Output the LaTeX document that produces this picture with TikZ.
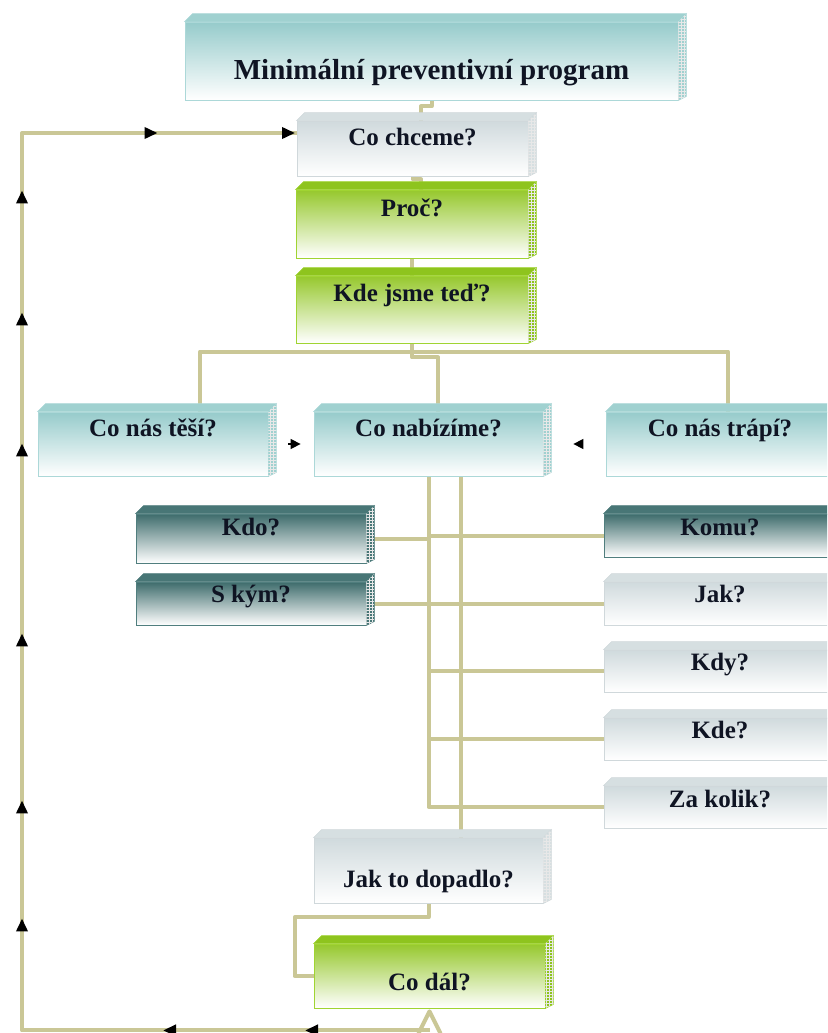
\documentclass[tikz,border=0pt]{standalone}
\usepackage{fontspec}
\setmainfont{Liberation Serif}
\usetikzlibrary{calc,arrows.meta,decorations.markings,patterns}
\definecolor{connC}{RGB}{202,199,150}
\definecolor{tealT}{RGB}{150,203,203}
\definecolor{tealF}{RGB}{160,209,208}
\definecolor{tealB}{RGB}{172,216,216}
\definecolor{greyT}{RGB}{208,218,221}
\definecolor{greyF}{RGB}{214,223,225}
\definecolor{greyB}{RGB}{208,216,219}
\definecolor{grnT}{RGB}{150,200,45}
\definecolor{grnF}{RGB}{142,196,30}
\definecolor{grnB}{RGB}{160,212,50}
\definecolor{dkT}{RGB}{62,108,108}
\definecolor{dkF}{RGB}{72,118,118}
\definecolor{dkB}{RGB}{80,126,126}
\definecolor{txtc}{RGB}{15,20,35}
\pgfdeclarelayer{background}
\pgfsetlayers{background,main}
\newcommand\mybevel[3]{%
  \filldraw[fill=#2, draw=#3, line width=0.6pt] (#1.north west) -- ++(8,-8) -- ($(#1.north east)+(8,-8)$) -- (#1.north east) -- cycle;
  \filldraw[fill=#2, draw=#3, line width=0.6pt] (#1.north east) -- ($(#1.north east)+(8,-8)$) -- ($(#1.south east)+(8,-4)$) -- (#1.south east) -- cycle;
  \fill[pattern=grid, pattern color=black!9] (#1.north east) -- ($(#1.north east)+(8,-8)$) -- ($(#1.south east)+(8,-4)$) -- (#1.south east) -- cycle;
}
\tikzset{
  boxbase/.style={inner sep=0pt, line width=0.8pt},
  tealbox/.style={boxbase, draw=tealB, top color=tealT, bottom color=white},
  greybox/.style={boxbase, draw=greyB, top color=greyT, bottom color=white},
  grnbox/.style={boxbase, draw=grnB, top color=grnT, bottom color=white},
  dkbox/.style={boxbase, draw=dkB, top color=dkT, bottom color=white},
  txt/.style={anchor=base, inner sep=0pt, text=txtc, font=\bfseries\fontsize{25}{30}\selectfont},
  txtbig/.style={txt, font=\bfseries\fontsize{29}{34}\selectfont},
  connline/.style={draw=connC, line width=4pt, line join=round},
  smallarrow/.style={draw=black, line width=1.5pt, -{Triangle[length=10pt,width=10pt]}},
  looptip/.style={black},
  looparrow/.style={connline, postaction={decorate, decoration={markings,
    mark=at position 124.5pt with {\arrow[looptip]{Triangle[length=13pt,width=11pt]}},
    mark=at position 266.5pt with {\arrow[looptip]{Triangle[length=13pt,width=11pt]}},
    mark=at position 519.5pt with {\arrow[looptip]{Triangle[length=13pt,width=11pt]}},
    mark=at position 637.5pt with {\arrow[looptip]{Triangle[length=13pt,width=11pt]}},
    mark=at position 804.5pt with {\arrow[looptip]{Triangle[length=13pt,width=11pt]}},
    mark=at position 994.5pt with {\arrow[looptip]{Triangle[length=13pt,width=11pt]}},
    mark=at position 1125.5pt with {\arrow[looptip]{Triangle[length=13pt,width=11pt]}},
    mark=at position 1247.5pt with {\arrow[looptip]{Triangle[length=13pt,width=11pt]}},
    mark=at position 1440.5pt with {\arrow[looptip]{Triangle[length=13pt,width=11pt]}},
    mark=at position 1578pt with {\arrow[looptip]{Triangle[length=13pt,width=11pt]}}}}}
}
\begin{document}
\begin{tikzpicture}[x=1pt,y=-1pt]
\useasboundingbox (0,0) rectangle (827,1033);
\begin{pgfonlayer}{background}
\fill[white] (0,0) rectangle (827,1033);
\end{pgfonlayer}
\clip (0,0) rectangle (827,1033);

% boxes
\node[tealbox, minimum width=493pt, minimum height=78pt] (top) at (431.5,61) {};
\node[greybox, minimum width=231pt, minimum height=55pt] (chceme) at (412.5,148.5) {};
\node[grnbox, minimum width=232pt, minimum height=68pt] (proc) at (412,224) {};
\node[grnbox, minimum width=232pt, minimum height=67pt] (kde) at (412,309.5) {};
\node[tealbox, minimum width=230pt, minimum height=64pt] (tesi) at (153,444) {};
\node[tealbox, minimum width=229pt, minimum height=64pt] (nab) at (428.5,444) {};
\node[tealbox, minimum width=228pt, minimum height=64pt] (trapi) at (720,444) {};
\node[dkbox, minimum width=230pt, minimum height=49pt] (kdo) at (251,538.5) {};
\node[dkbox, minimum width=230pt, minimum height=43pt] (skym) at (251,603.5) {};
\node[dkbox, minimum width=232pt, minimum height=43pt] (komu) at (720,535.5) {};
\node[greybox, minimum width=232pt, minimum height=43pt] (jak) at (720,603.5) {};
\node[greybox, minimum width=232pt, minimum height=42pt] (kdy) at (720,671) {};
\node[greybox, minimum width=232pt, minimum height=42pt] (kdeq) at (720,739) {};
\node[greybox, minimum width=232pt, minimum height=42pt] (zakolik) at (720,807) {};
\node[greybox, minimum width=229pt, minimum height=65pt] (dopadlo) at (428.5,870.5) {};
\node[grnbox, minimum width=231pt, minimum height=64pt] (codal) at (429.5,976) {};

\mybevel{top}{tealF}{tealB}
\mybevel{chceme}{greyF}{greyB}
\mybevel{proc}{grnF}{grnB}
\mybevel{kde}{grnF}{grnB}
\mybevel{tesi}{tealF}{tealB}
\mybevel{nab}{tealF}{tealB}
\mybevel{trapi}{tealF}{tealB}
\mybevel{kdo}{dkF}{dkB}
\mybevel{skym}{dkF}{dkB}
\mybevel{komu}{dkF}{dkB}
\mybevel{jak}{greyF}{greyB}
\mybevel{kdy}{greyF}{greyB}
\mybevel{kdeq}{greyF}{greyB}
\mybevel{zakolik}{greyF}{greyB}
\mybevel{dopadlo}{greyF}{greyB}
\mybevel{codal}{grnF}{grnB}

% texts
\node[txtbig] (ttop) at (431.5,79.5) {Minimální preventivní program};
\node[txt] (tchceme) at (412.5,145) {Co chceme?};
\node[txt] (tproc) at (412,216) {Proč?};
\node[txt] (tkde) at (412,301) {Kde jsme teď?};
\node[txt] (ttesi) at (153,436) {Co nás těší?};
\node[txt] (tnab) at (428.5,436) {Co nabízíme?};
\node[txt] (ttrapi) at (720,436) {Co nás trápí?};
\node[txt] (tkdo) at (251,535) {Kdo?};
\node[txt] (tskym) at (251,602) {S kým?};
\node[txt] (tkomu) at (720,535) {Komu?};
\node[txt] (tjak) at (720,602) {Jak?};
\node[txt] (tkdy) at (720,670) {Kdy?};
\node[txt] (tkdeq) at (720,738) {Kde?};
\node[txt] (tzak) at (720,807) {Za kolik?};
\node[txt] (tdop) at (428.5,887) {Jak to dopadlo?};
\node[txt] (tcodal) at (429.5,990) {Co dál?};

% small arrows between the row boxes
\draw[smallarrow] ($(tesi.east)+(20,0)$) -- ($(nab.west)+(-13,0)$);
\draw[smallarrow] ($(trapi.west)+(-24,0)$) -- ($(nab.east)+(30,0)$);

% connectors
\begin{pgfonlayer}{background}
\draw[connline] (top.south) -- ++(0,6) -| ($(chceme.north)+(8.5,0)$);
\draw[connline] (chceme.south) -- ++(0,3) -| ($(proc.north)+(9,0)$);
\draw[connline] (proc.south) -- (kde.north);
\draw[connline] ($(tesi.north)+(47,0)$) -- ++(0,-60) -| ($(trapi.north)+(8,0)$);
\draw[connline] (kde.south) -- ++(0,14) -| ($(nab.north)+(9.5,0)$);
\draw[connline] (nab.south) |- (zakolik.west);
\draw[connline] ($(nab.south)+(32,0)$) -- ($(dopadlo.north)+(32,0)$);
\draw[connline] (kdo.east) -- (kdo.east -| nab.south);
\draw[connline] (komu.west) -- (komu.west -| nab.south);
\draw[connline] (skym.east) -- (jak.west);
\draw[connline] (kdy.west) -- (kdy.west -| nab.south);
\draw[connline] (kdeq.west) -- (kdeq.west -| nab.south);
\draw[connline] (dopadlo.south) -- ++(0,14) -| ($(codal.west)+(-19,0)$) -- (codal.west);
\draw[connline] ($(codal.south)+(-11,25)$) -- ($(codal.south)+(0,3)$) -- ($(codal.south)+(11,25)$);
\coordinate (lt) at (22,133);
\draw[looparrow] ($(codal.south)+(0,22)$) -| (lt) -- ($(chceme.west)+(0,-15.5)$);
\end{pgfonlayer}
\end{tikzpicture}
\end{document}
